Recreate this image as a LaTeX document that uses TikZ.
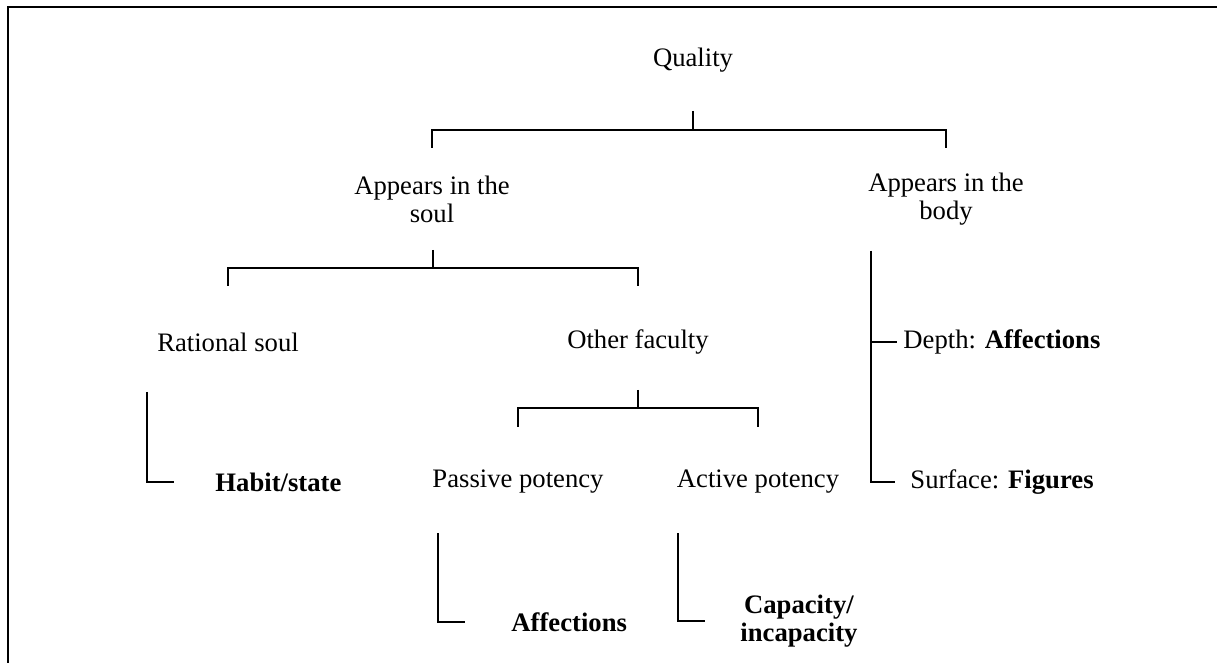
\documentclass[tikz,border=0pt]{standalone}
\usepackage{fontspec}
\setmainfont{Liberation Serif}
\usetikzlibrary{positioning}
\tikzset{
  lbl/.style={inner sep=0pt, align=center, font=\fontsize{12}{12.6}\selectfont},
  key/.style={lbl, font=\fontsize{12}{12.6}\selectfont\bfseries},
  link/.style={draw=black, line width=0.5pt},
  frame/.style={draw=black, line width=1.2pt}
}
\begin{document}
\begin{tikzpicture}[x=0.45pt, y=-0.45pt]
  \useasboundingbox (0,0) rectangle (1217,663);
  \draw[frame] (8,663) -- (8,7) -- (1217,7);
  % nodes
  \node[lbl] (quality) at (693,60) {Quality};
  \node[lbl] (soul) at (432,199) {Appears in the\\soul};
  \node[lbl] (body) at (946,199) {Appears in the\\body};
  \node[lbl] (rational) at (228,342) {Rational soul};
  \node[lbl] (faculty) at (638,342) {Other faculty};
  \node[lbl, anchor=west] (depth) at (903,342) {Depth: \textbf{Affections}};
  \node[key, anchor=west] (habit) at (215,482) {Habit/state};
  \node[lbl] (passive) at (518,482) {Passive potency};
  \node[lbl] (active) at (758,482) {Active potency};
  \node[lbl, anchor=west] (surface) at (910,482) {Surface: \textbf{Figures}};
  \node[key, anchor=west] (affect) at (511,622) {Affections};
  \node[key, anchor=west] (capacity) at (740,621) {Capacity/\\incapacity};
  % brackets
  \coordinate (q-top) at (693,111);
  \coordinate (q-bar) at (693,130);
  \coordinate (q-end) at (0,148);
  \draw[link] (q-top) -- (q-bar);
  \draw[link] (soul |- q-end) |- (q-bar) -| (body |- q-end);
  \coordinate (s-top) at (433,250);
  \coordinate (s-bar) at (433,268);
  \coordinate (s-end) at (0,286);
  \draw[link] (s-top) -- (s-bar);
  \draw[link] (rational |- s-end) |- (s-bar) -| (faculty |- s-end);
  \coordinate (f-top) at (638,390);
  \coordinate (f-bar) at (638,408);
  \coordinate (f-end) at (0,427);
  \draw[link] (f-top) -- (f-bar);
  \draw[link] (passive |- f-end) |- (f-bar) -| (active |- f-end);
  % elbows
  \coordinate (r-top) at (147,392);
  \coordinate (p-top) at (438,533);
  \coordinate (a-top) at (678,533);
  \coordinate (b-top) at (871,251);
  \draw[link, shorten >=18.5pt] (r-top) |- (habit.west);
  \draw[link, shorten >=20.7pt] (p-top) |- (affect.west);
  \draw[link, shorten >=15.8pt] (a-top) |- (capacity.west);
  \draw[link, shorten >=2.7pt] (b-top) |- (depth.west);
  \draw[link, shorten >=6.8pt] (b-top) |- (surface.west);
\end{tikzpicture}
\end{document}
